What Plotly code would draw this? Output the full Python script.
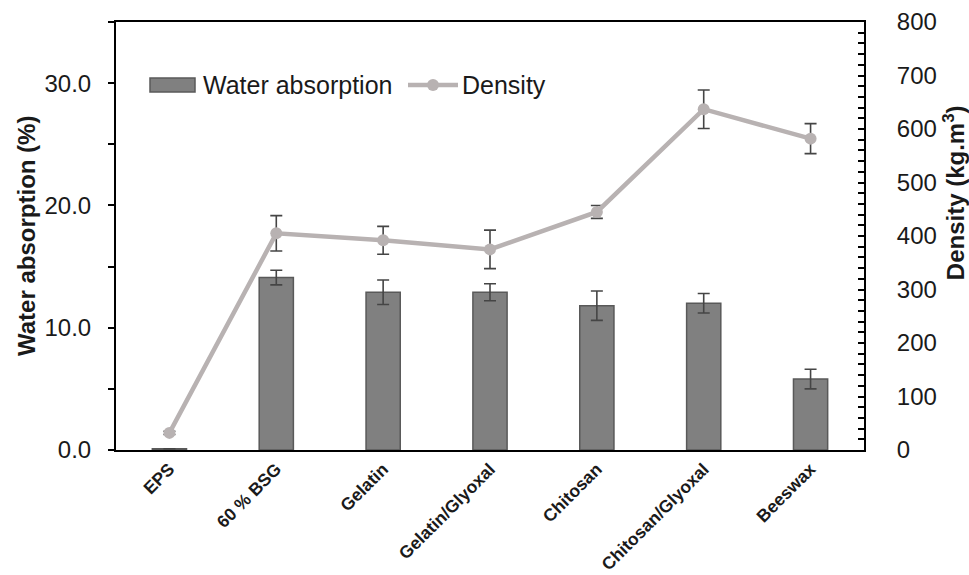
import plotly.graph_objects as go

# Samples and measured properties
categories = ["EPS", "60 % BSG", "Gelatin", "Gelatin/Glyoxal", "Chitosan",
              "Chitosan/Glyoxal", "Beeswax"]
water_absorption = [0.1, 14.1, 12.9, 12.9, 11.8, 12.0, 5.8]
water_absorption_err = [0.0, 0.6, 1.0, 0.7, 1.2, 0.8, 0.8]
density = [32, 405, 392, 375, 445, 637, 582]
density_err = [3, 33, 26, 36, 12, 36, 28]

FONT = "Arial, Liberation Sans, sans-serif"
TEXT = "#1a1a1a"
BAR_FILL = "#808080"
BAR_EDGE = "#595959"
LINE_COLOR = "#B8B2B2"
ERR_COLOR = "#454545"

fig = go.Figure()

fig.add_trace(go.Bar(
    x=categories, y=water_absorption, name="Water absorption",
    marker=dict(color=BAR_FILL, line=dict(color=BAR_EDGE, width=1.5)),
    width=0.32,
    error_y=dict(type="data", array=water_absorption_err, visible=True,
                 color=ERR_COLOR, thickness=1.6, width=6),
    yaxis="y", showlegend=False,
))

fig.add_trace(go.Scatter(
    x=categories, y=density, name="Density", mode="lines+markers",
    line=dict(color=LINE_COLOR, width=4.5),
    marker=dict(color=LINE_COLOR, size=12),
    error_y=dict(type="data", array=density_err, visible=True,
                 color=ERR_COLOR, thickness=1.6, width=6),
    yaxis="y2", showlegend=False,
))

# Plot-area geometry in pixels, used to place the hand-drawn legend keys
W, H = 969, 575
ML, MR, MT, MB = 116, 105, 22, 125
PW, PH = W - ML - MR, H - MT - MB


def px(x):
    return (x - ML) / PW


def py(y):
    return (H - MB - y) / PH


legend_y = 85
shapes = [
    # bar key
    dict(type="rect", xref="paper", yref="paper",
         x0=px(150), x1=px(195), y0=py(92), y1=py(78),
         fillcolor=BAR_FILL, line=dict(color=BAR_EDGE, width=1.5)),
    # line key
    dict(type="line", xref="paper", yref="paper",
         x0=px(408), x1=px(458), y0=py(legend_y), y1=py(legend_y),
         line=dict(color=LINE_COLOR, width=4.5)),
    dict(type="circle", xref="paper", yref="paper",
         x0=px(427), x1=px(439), y0=py(legend_y + 6), y1=py(legend_y - 6),
         fillcolor=LINE_COLOR, line=dict(color=LINE_COLOR, width=0)),
]

annotations = [
    dict(text="Water absorption", xref="paper", yref="paper",
         x=px(201), y=py(legend_y), xanchor="left", yanchor="middle",
         showarrow=False, font=dict(size=25, family=FONT, color=TEXT)),
    dict(text="Density", xref="paper", yref="paper",
         x=px(460), y=py(legend_y), xanchor="left", yanchor="middle",
         showarrow=False, font=dict(size=25, family=FONT, color=TEXT)),
    dict(text="<b>Water absorption (%)</b>", xref="paper", yref="paper",
         x=px(26), y=0.5, showarrow=False, textangle=-90,
         font=dict(size=24, family=FONT, color=TEXT),
         xanchor="center", yanchor="middle"),
    dict(text="<b>Density (kg.m<sup>3</sup>)</b>", xref="paper", yref="paper",
         x=px(954), y=0.6, showarrow=False, textangle=-90,
         font=dict(size=24, family=FONT, color=TEXT),
         xanchor="center", yanchor="middle"),
]

fig.update_layout(
    width=W, height=H,
    margin=dict(l=ML, r=MR, t=MT, b=MB, autoexpand=False),
    paper_bgcolor="white", plot_bgcolor="white",
    font=dict(family=FONT, color=TEXT),
    showlegend=False,
    xaxis=dict(
        type="category", showline=True, linecolor="black", linewidth=2,
        mirror=True, ticks="", tickangle=-45, automargin=False,
        tickfont=dict(size=17.5, family=FONT, color=TEXT, weight="bold"),
        showgrid=False, zeroline=False,
    ),
    yaxis=dict(
        range=[0, 35], tickvals=[0, 10, 20, 30], tickformat=".1f",
        ticks="outside", ticklen=6, tickwidth=1.5, tickcolor="black",
        minor=dict(dtick=5, ticks="outside", ticklen=6, tickwidth=1.5,
                   tickcolor="black"),
        showline=True, linecolor="black", linewidth=2, automargin=False,
        showgrid=False, zeroline=False,
        tickfont=dict(size=24, family=FONT, color=TEXT),
        ticklabelstandoff=12,
    ),
    yaxis2=dict(
        range=[0, 800], dtick=100, overlaying="y", side="right",
        ticks="inside", ticklen=6, tickwidth=1.5, tickcolor="black",
        minor=dict(dtick=20, ticks="inside", ticklen=6, tickwidth=1.5,
                   tickcolor="black"),
        showline=True, linecolor="black", linewidth=2, automargin=False,
        showgrid=False, zeroline=False,
        tickfont=dict(size=24, family=FONT, color=TEXT),
        ticklabelstandoff=26,
    ),
    shapes=shapes,
    annotations=annotations,
)

fig.write_html("out.html")
